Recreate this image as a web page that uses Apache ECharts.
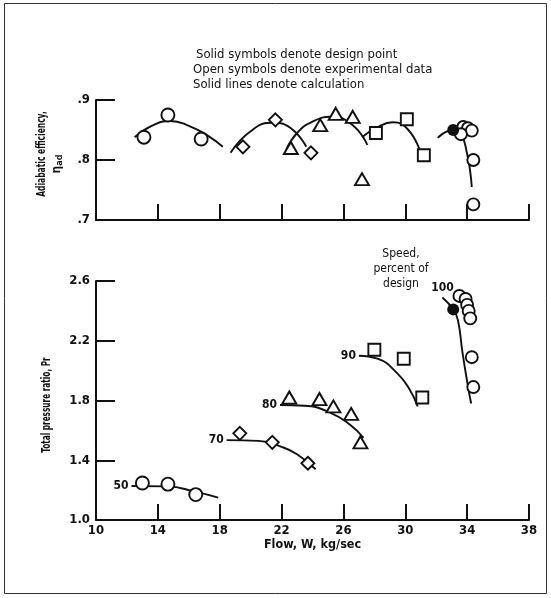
<!DOCTYPE html>
<html><head><meta charset="utf-8">
<script src="https://cdn.jsdelivr.net/npm/echarts@6/dist/echarts.min.js"></script>
<style>html,body{margin:0;padding:0;background:#fff}#c{width:551px;height:598px}</style>
</head><body><div id="c"></div>
<script>
// ---- axes ----
const flowTicks = [10, 14, 18, 22, 26, 30, 34, 38];
const effTicks = ['.7', '.8', '.9'];
const prTicks = ['1.0', '1.4', '1.8', '2.2', '2.6'];
const speeds = ['50', '70', '80', '90', '100'];

// ---- adiabatic efficiency: experimental (open) ----
const eff50 = [[13.1, 0.838], [14.65, 0.875], [16.8, 0.835]];
const eff70 = [[19.5, 0.822], [21.6, 0.867], [23.9, 0.812]];
const eff80 = [[22.6, 0.820], [24.5, 0.858], [25.5, 0.877], [26.6, 0.872], [27.2, 0.768]];
const eff90 = [[28.1, 0.845], [30.1, 0.868], [31.2, 0.808]];
const eff100 = [[33.75, 0.855], [34.05, 0.853], [34.3, 0.849], [33.6, 0.843], [34.4, 0.800], [34.4, 0.726]];
const effDesign = [[33.1, 0.850]];
// ---- adiabatic efficiency: calculation ----
const effCalc50 = [[12.5, 0.838], [13.6, 0.857], [14.8, 0.865], [16.0, 0.857], [17.2, 0.841], [18.2, 0.822]];
const effCalc70 = [[18.7, 0.812], [20.0, 0.848], [21.4, 0.862], [22.6, 0.853], [23.6, 0.822]];
const effCalc80 = [[22.3, 0.817], [23.0, 0.845], [24.0, 0.864], [25.2, 0.872], [26.6, 0.858], [27.55, 0.825]];
const effCalc90 = [[27.2, 0.838], [28.1, 0.853], [29.2, 0.863], [30.2, 0.850], [31.0, 0.812]];
const effCalc100 = [[32.1, 0.837], [33.1, 0.850], [33.6, 0.844], [34.0, 0.810], [34.2, 0.780], [34.3, 0.755]];

// ---- total pressure ratio: experimental (open) ----
const pr50 = [[13.0, 1.248], [14.65, 1.240], [16.45, 1.170]];
const pr70 = [[19.3, 1.580], [21.4, 1.520], [23.7, 1.380]];
const pr80 = [[22.5, 1.820], [24.45, 1.810], [25.35, 1.760], [26.5, 1.710], [27.1, 1.520]];
const pr90 = [[28.0, 2.140], [29.9, 2.080], [31.1, 1.820]];
const pr100 = [[33.5, 2.500], [33.9, 2.480], [34.0, 2.440], [34.1, 2.400], [34.2, 2.350], [34.3, 2.090], [34.4, 1.890]];
const prDesign = [[33.1, 2.410]];
// ---- total pressure ratio: calculation ----
const prCalc50 = [[12.3, 1.228], [14.6, 1.225], [16.4, 1.190], [17.9, 1.150]];
const prCalc70 = [[18.45, 1.535], [20.5, 1.530], [22.0, 1.490], [23.0, 1.440], [24.2, 1.340]];
const prCalc80 = [[21.9, 1.770], [23.5, 1.765], [25.2, 1.716], [26.45, 1.636], [27.3, 1.550]];
const prCalc90 = [[27.0, 2.100], [28.2, 2.080], [29.5, 1.980], [30.3, 1.870], [30.8, 1.760]];
const prCalc100 = [[32.4, 2.490], [33.1, 2.410], [33.4, 2.340], [33.7, 2.120], [34.06, 1.890], [34.26, 1.780]];

const FONT = '"DejaVu Sans Condensed", "Liberation Sans Narrow", "DejaVu Sans", sans-serif';
const BLACK = '#111';

const chart = echarts.init(document.getElementById('c'), null, {renderer: 'canvas'});

function openSeries(data, symbol, size, gi) {
  return {type: 'scatter', xAxisIndex: gi, yAxisIndex: gi, data: data, symbol: symbol, symbolSize: size,
    itemStyle: {color: '#fff', borderColor: BLACK, borderWidth: 1.9, opacity: 1}, z: 5, silent: true};
}
function designSeries(data, gi) {
  return {type: 'scatter', xAxisIndex: gi, yAxisIndex: gi, data: data, symbol: 'circle', symbolSize: 12,
    itemStyle: {color: BLACK, opacity: 1}, z: 6, silent: true};
}
function calcSeries(data, gi) {
  return {type: 'line', xAxisIndex: gi, yAxisIndex: gi, data: data, smooth: 0.5, showSymbol: false, symbol: 'none',
    lineStyle: {color: BLACK, width: 1.9}, z: 3, silent: true};
}
function yAxisCommon(gi, min, max, interval, labels) {
  return {type: 'value', gridIndex: gi, min: min, max: max, interval: interval,
    axisLine: {show: true, lineStyle: {color: BLACK, width: 2}},
    axisTick: {show: true, inside: true, length: 19, lineStyle: {color: BLACK, width: 2}},
    splitLine: {show: false},
    axisLabel: {color: BLACK, fontFamily: FONT, fontWeight: 'bold', fontSize: 13, margin: 6,
      formatter: function (v) { return labels[Math.round((v - min) / interval)]; }}
  };
}
function xAxisCommon(gi, showLabels) {
  return {type: 'value', gridIndex: gi, min: flowTicks[0], max: flowTicks[flowTicks.length - 1],
    interval: flowTicks[1] - flowTicks[0],
    axisLine: {show: true, onZero: false, lineStyle: {color: BLACK, width: 2}},
    axisTick: {show: true, inside: true, length: 16, lineStyle: {color: BLACK, width: 2}},
    splitLine: {show: false},
    axisLabel: {show: showLabels, color: BLACK, fontFamily: FONT, fontWeight: 'bold', fontSize: 13, margin: 4},
    name: showLabels ? 'Flow, W, kg/sec' : '', nameLocation: 'middle', nameGap: 18,
    nameTextStyle: {color: BLACK, fontFamily: FONT, fontWeight: 'bold', fontSize: 12.5}
  };
}

const speedLabelData = [
  [prCalc50[0][0], prCalc50[0][1], speeds[0], 'left'],
  [prCalc70[0][0], prCalc70[0][1], speeds[1], 'left'],
  [prCalc80[0][0], prCalc80[0][1], speeds[2], 'left'],
  [prCalc90[0][0], prCalc90[0][1], speeds[3], 'left'],
  [prCalc100[0][0], prCalc100[0][1], speeds[4], 'top']
];

function vText(x, y, text, sx) {
  return {type: 'text', x: x, y: y, rotation: Math.PI / 2, scaleX: sx, silent: true,
    style: {text: text, font: 'bold 12px ' + FONT, fill: BLACK, align: 'center', verticalAlign: 'middle',
      textAlign: 'center', textVerticalAlign: 'middle'}};
}

const option = {
  backgroundColor: '#fff',
  animation: false,
  grid: [
    {left: 96, right: 22, top: 100, height: 120},
    {left: 96, right: 22, top: 281, height: 239}
  ],
  xAxis: [xAxisCommon(0, false), xAxisCommon(1, true)],
  yAxis: [
    yAxisCommon(0, 0.7, 0.9, 0.1, effTicks),
    yAxisCommon(1, 1.0, 2.6, 0.4, prTicks)
  ],
  graphic: [
    {type: 'rect', shape: {x: 4.5, y: 3.5, width: 542, height: 590}, style: {fill: 'none', stroke: '#333', lineWidth: 1}, silent: true},
    {type: 'text', x: 196, y: 48, style: {text: 'Solid symbols denote design point', font: '13px ' + FONT, fill: BLACK}},
    {type: 'text', x: 193, y: 63, style: {text: 'Open symbols denote experimental data', font: '13px ' + FONT, fill: BLACK}},
    {type: 'text', x: 193, y: 78, style: {text: 'Solid lines denote calculation', font: '13px ' + FONT, fill: BLACK}},
    {type: 'text', x: 401, y: 246, style: {text: 'Speed,\npercent of\ndesign', font: '12px ' + FONT, fill: BLACK, textAlign: 'center', lineHeight: 15}},
    vText(42, 154, 'Adiabatic efficiency,', 0.7),
    {type: 'text', x: 57, y: 164, rotation: Math.PI / 2, silent: true,
      style: {text: '{g|η}{s|ad}', fill: BLACK, align: 'center', verticalAlign: 'middle', textAlign: 'center', textVerticalAlign: 'middle',
        rich: {g: {font: 'bold 12px ' + FONT, fill: BLACK}, s: {font: 'bold 9px ' + FONT, fill: BLACK, padding: [5, 0, 0, 0]}}}},
    vText(47, 405, 'Total pressure ratio, Pr', 0.68)
  ],
  series: [
    calcSeries(effCalc50, 0), calcSeries(effCalc70, 0), calcSeries(effCalc80, 0), calcSeries(effCalc90, 0), calcSeries(effCalc100, 0),
    openSeries(eff50, 'circle', 13, 0),
    openSeries(eff70, 'diamond', 13, 0),
    openSeries(eff80, 'triangle', [14, 12], 0),
    openSeries(eff90, 'rect', 12, 0),
    openSeries(eff100, 'circle', 12, 0),
    designSeries(effDesign, 0),

    calcSeries(prCalc50, 1), calcSeries(prCalc70, 1), calcSeries(prCalc80, 1), calcSeries(prCalc90, 1), calcSeries(prCalc100, 1),
    openSeries(pr50, 'circle', 13, 1),
    openSeries(pr70, 'diamond', 13, 1),
    openSeries(pr80, 'triangle', [14, 12], 1),
    openSeries(pr90, 'rect', 12, 1),
    openSeries(pr100, 'circle', 12, 1),
    designSeries(prDesign, 1),
    {type: 'scatter', xAxisIndex: 1, yAxisIndex: 1, symbolSize: 0, silent: true, z: 7,
      itemStyle: {opacity: 1},
      data: speedLabelData.map(function (d) {
        return {value: [d[0], d[1]], label: {show: true, position: d[3], distance: d[3] === 'top' ? 4 : 3, formatter: d[2],
          color: BLACK, opacity: 1, fontFamily: FONT, fontWeight: 'bold', fontSize: 12}};
      })}
  ]
};
chart.setOption(option);
</script></body></html>
